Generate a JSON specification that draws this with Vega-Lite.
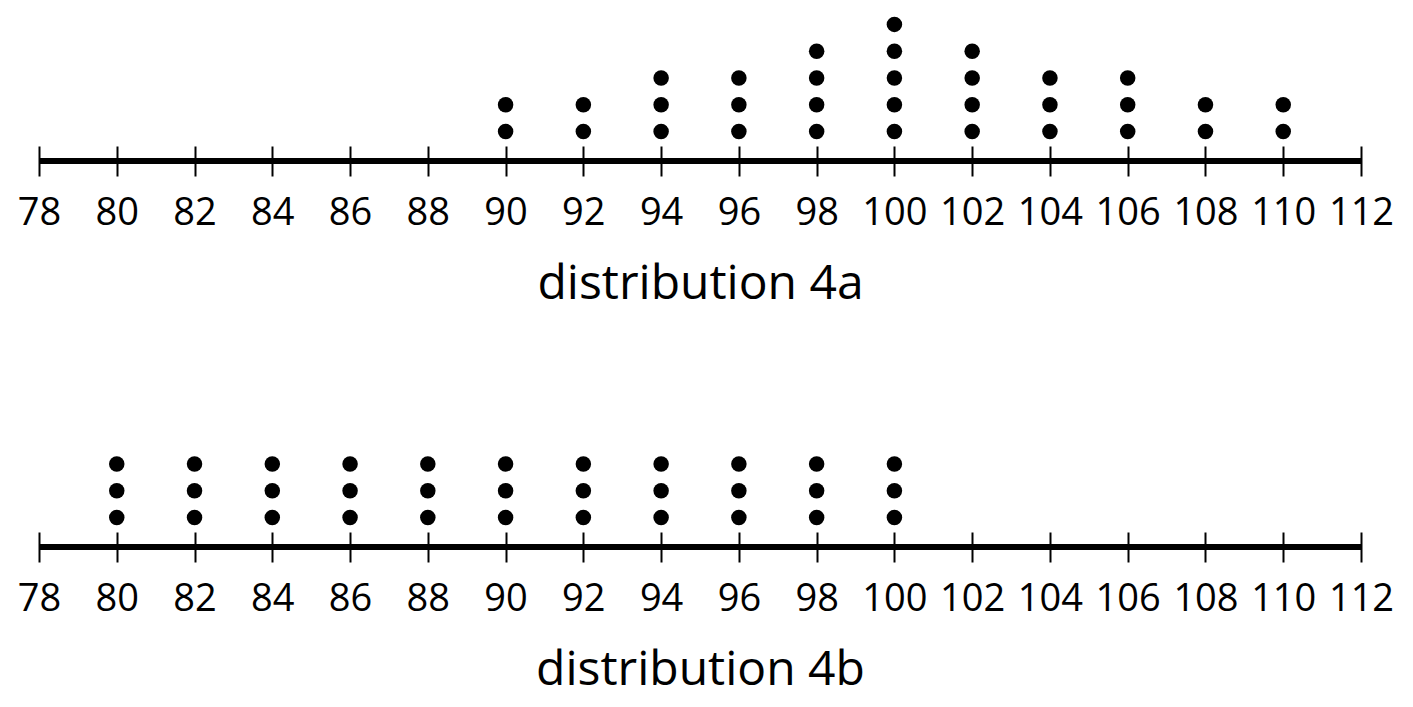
{
  "$schema": "https://vega.github.io/schema/vega-lite/v6.json",
  "background": "white",
  "padding": {"left": 17, "top": 11, "right": 10, "bottom": 10},
  "config": {
    "view": {"stroke": null},
    "font": "Open Sans",
    "concat": {"spacing": 89},
    "axis": {
      "format": "d",
      "domain": false,
      "grid": false,
      "offset": -15,
      "tickSize": 30,
      "tickWidth": 2,
      "tickColor": "black",
      "labelFont": "Open Sans",
      "labelFontSize": 38,
      "labelColor": "black",
      "labelPadding": 18,
      "labelFlush": false,
      "labelOverlap": false,
      "titleFont": "Open Sans",
      "titleFontSize": 48,
      "titleFontWeight": "normal",
      "titleColor": "black",
      "titlePadding": 28
    }
  },
  "datasets": {
    "dist4a": [
      {"value": 90}, {"value": 90},
      {"value": 92}, {"value": 92},
      {"value": 94}, {"value": 94}, {"value": 94},
      {"value": 96}, {"value": 96}, {"value": 96},
      {"value": 98}, {"value": 98}, {"value": 98}, {"value": 98},
      {"value": 100}, {"value": 100}, {"value": 100}, {"value": 100}, {"value": 100},
      {"value": 102}, {"value": 102}, {"value": 102}, {"value": 102},
      {"value": 104}, {"value": 104}, {"value": 104},
      {"value": 106}, {"value": 106}, {"value": 106},
      {"value": 108}, {"value": 108},
      {"value": 110}, {"value": 110}
    ],
    "dist4b": [
      {"value": 80}, {"value": 80}, {"value": 80},
      {"value": 82}, {"value": 82}, {"value": 82},
      {"value": 84}, {"value": 84}, {"value": 84},
      {"value": 86}, {"value": 86}, {"value": 86},
      {"value": 88}, {"value": 88}, {"value": 88},
      {"value": 90}, {"value": 90}, {"value": 90},
      {"value": 92}, {"value": 92}, {"value": 92},
      {"value": 94}, {"value": 94}, {"value": 94},
      {"value": 96}, {"value": 96}, {"value": 96},
      {"value": 98}, {"value": 98}, {"value": 98},
      {"value": 100}, {"value": 100}, {"value": 100}
    ]
  },
  "vconcat": [
    {
      "width": 1322,
      "height": 150,
      "data": {"name": "dist4a"},
      "transform": [{"window": [{"op": "row_number", "as": "level"}], "groupby": ["value"]}],
      "layer": [
        {
          "mark": {"type": "rule", "color": "black", "strokeWidth": 4.5},
          "encoding": {
            "x": {"datum": 78, "type": "quantitative", "scale": {"domain": [78, 112]},
              "axis": {"title": "distribution 4a", "values": [78, 80, 82, 84, 86, 88, 90, 92, 94, 96, 98, 100, 102, 104, 106, 108, 110, 112]}},
            "x2": {"datum": 112},
            "y": {"datum": -0.1, "type": "quantitative", "scale": {"domain": [-0.1, 5.5]}, "axis": null}
          }
        },
        {
          "mark": {"type": "circle", "color": "black", "opacity": 1, "size": 240},
          "encoding": {
            "x": {"field": "value", "type": "quantitative", "scale": {"domain": [78, 112]},
              "axis": {"title": "distribution 4a", "values": [78, 80, 82, 84, 86, 88, 90, 92, 94, 96, 98, 100, 102, 104, 106, 108, 110, 112]}},
            "y": {"field": "level", "type": "quantitative", "scale": {"domain": [-0.1, 5.5]}, "axis": null}
          }
        }
      ]
    },
    {
      "width": 1322,
      "height": 150,
      "data": {"name": "dist4b"},
      "transform": [{"window": [{"op": "row_number", "as": "level"}], "groupby": ["value"]}],
      "layer": [
        {
          "mark": {"type": "rule", "color": "black", "strokeWidth": 4.5},
          "encoding": {
            "x": {"datum": 78, "type": "quantitative", "scale": {"domain": [78, 112]},
              "axis": {"title": "distribution 4b", "values": [78, 80, 82, 84, 86, 88, 90, 92, 94, 96, 98, 100, 102, 104, 106, 108, 110, 112]}},
            "x2": {"datum": 112},
            "y": {"datum": -0.1, "type": "quantitative", "scale": {"domain": [-0.1, 5.5]}, "axis": null}
          }
        },
        {
          "mark": {"type": "circle", "color": "black", "opacity": 1, "size": 240},
          "encoding": {
            "x": {"field": "value", "type": "quantitative", "scale": {"domain": [78, 112]},
              "axis": {"title": "distribution 4b", "values": [78, 80, 82, 84, 86, 88, 90, 92, 94, 96, 98, 100, 102, 104, 106, 108, 110, 112]}},
            "y": {"field": "level", "type": "quantitative", "scale": {"domain": [-0.1, 5.5]}, "axis": null}
          }
        }
      ]
    }
  ]
}
